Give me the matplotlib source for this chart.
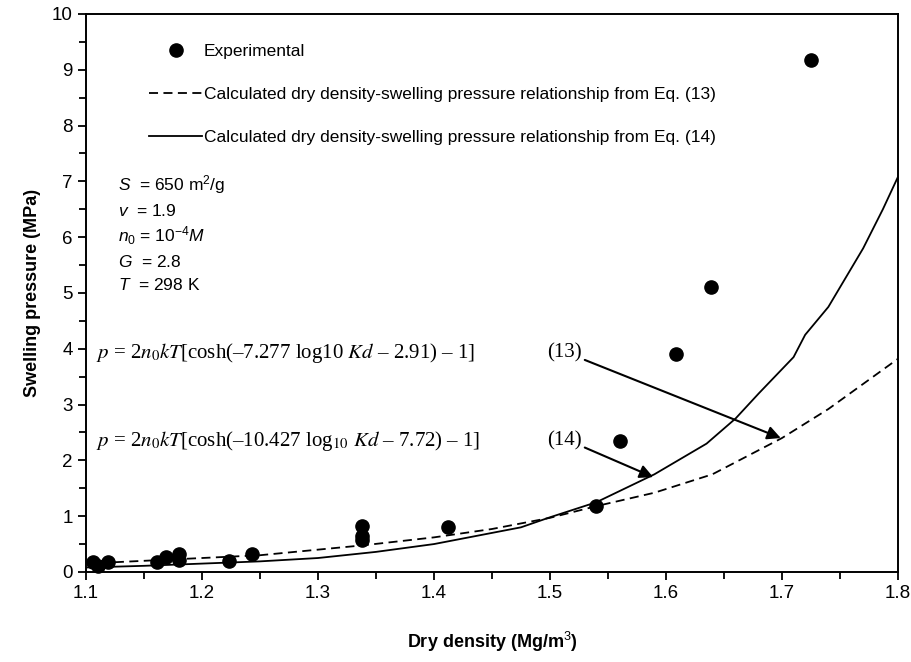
import matplotlib
matplotlib.use("Agg")
import matplotlib.pyplot as plt
from matplotlib.lines import Line2D
from matplotlib.ticker import MultipleLocator

plt.rcParams['font.family'] = ['Liberation Sans', 'DejaVu Sans']
plt.rcParams['mathtext.fontset'] = 'custom'
plt.rcParams['mathtext.rm'] = 'Liberation Sans'
plt.rcParams['mathtext.it'] = 'Liberation Sans:italic'

# experimental points (dry density Mg/m3, swelling pressure MPa)
exp_density = [1.106, 1.110, 1.119, 1.161, 1.169, 1.180, 1.180, 1.223, 1.243,
               1.338, 1.338, 1.338, 1.412, 1.540, 1.560, 1.609, 1.639, 1.725]
exp_pressure = [0.18, 0.10, 0.17, 0.18, 0.27, 0.33, 0.22, 0.19, 0.33,
                0.82, 0.64, 0.57, 0.81, 1.18, 2.35, 3.90, 5.10, 9.18]

# Eq. (13), dashed
eq13_density = [1.10, 1.12, 1.15, 1.20, 1.25, 1.30, 1.34, 1.40, 1.45, 1.50,
                1.54, 1.59, 1.64, 1.70, 1.74, 1.77, 1.80]
eq13_pressure = [0.17, 0.17, 0.20, 0.25, 0.30, 0.40, 0.48, 0.62, 0.77, 0.97,
                 1.18, 1.42, 1.75, 2.40, 2.92, 3.37, 3.82]

# Eq. (14), solid
eq14_density = [1.10, 1.15, 1.20, 1.25, 1.30, 1.35, 1.40, 1.45, 1.475, 1.50,
                1.54, 1.59, 1.635, 1.66, 1.68, 1.71, 1.72, 1.74, 1.77, 1.787, 1.80]
eq14_pressure = [0.08, 0.11, 0.15, 0.19, 0.25, 0.36, 0.50, 0.70, 0.80, 0.98,
                 1.25, 1.75, 2.30, 2.75, 3.20, 3.85, 4.25, 4.75, 5.80, 6.50, 7.08]

params = [r'$S$  = 650 m$^2$/g', r'$v$  = 1.9', r'$n_0$ = 10$^{-4}$$M$',
          r'$G$  = 2.8', r'$T$  = 298 K']
param_y = [6.95, 6.47, 6.02, 5.56, 5.14]

fig = plt.figure(figsize=(9.12, 6.62), dpi=100)
ax = fig.add_axes([0.0943, 0.136, 0.8903, 0.8429])

ax.plot(eq13_density, eq13_pressure, color='black', lw=1.3, ls=(0, (5, 3)))
ax.plot(eq14_density, eq14_pressure, color='black', lw=1.3)
ax.plot(exp_density, exp_pressure, 'o', color='black', ms=9.5, clip_on=False)

ax.set_xlim(1.1, 1.8)
ax.set_ylim(0, 10)
ax.xaxis.set_major_locator(MultipleLocator(0.1))
ax.xaxis.set_minor_locator(MultipleLocator(0.05))
ax.yaxis.set_major_locator(MultipleLocator(1))
ax.yaxis.set_minor_locator(MultipleLocator(0.5))
ax.tick_params(which='both', direction='out', top=False, right=False,
               labelsize=13.5, width=1.3)
ax.tick_params(which='major', length=6)
ax.tick_params(which='minor', length=5)
for s in ax.spines.values():
    s.set_linewidth(1.4)

ax.set_xlabel('Dry density (Mg/m$^3$)', fontsize=13, fontweight='bold', labelpad=20)
ax.set_ylabel('Swelling pressure (MPa)', fontsize=13, fontweight='bold', labelpad=8)

# legend
handles = [
    Line2D([], [], ls='none', marker='o', color='black', ms=9.5),
    Line2D([], [], color='black', lw=1.3, ls=(0, (5, 3))),
    Line2D([], [], color='black', lw=1.3),
]
labels = ['Experimental',
          'Calculated dry density-swelling pressure relationship from Eq. (13)',
          'Calculated dry density-swelling pressure relationship from Eq. (14)']
ax.legend(handles, labels, loc='upper left', bbox_to_anchor=(0.078, 0.946),
          frameon=False, fontsize=12.5, handlelength=3.05, handletextpad=0.1,
          labelspacing=1.6, borderpad=0, borderaxespad=0)

for txt, yy in zip(params, param_y):
    ax.text(1.128, yy, txt, fontsize=12.5, va='center', ha='left')

serif = ['Liberation Serif', 'DejaVu Serif']
ax.text(1.109, 3.92, r'$p$ = 2$n_0kT$[cosh(–7.277 log10 $Kd$ – 2.91) – 1]',
        family=serif, math_fontfamily='stix', fontsize=15, va='center')
ax.text(1.109, 2.35, r'$p$ = 2$n_0kT$[cosh(–10.427 log$_{10}$ $Kd$ – 7.72) – 1]',
        family=serif, math_fontfamily='stix', fontsize=15, va='center')

arrow = dict(arrowstyle='-|>', color='black', lw=1.5, mutation_scale=20,
             shrinkA=0, shrinkB=0)
ax.text(1.527, 3.92, '(13)', family=serif, fontsize=15, va='center', ha='right')
ax.text(1.527, 2.35, '(14)', family=serif, fontsize=15, va='center', ha='right')
ax.annotate('', xy=(1.699, 2.40), xytext=(1.530, 3.80), arrowprops=arrow)
ax.annotate('', xy=(1.589, 1.70), xytext=(1.530, 2.23), arrowprops=arrow)

fig.savefig('out.png', dpi=100)
